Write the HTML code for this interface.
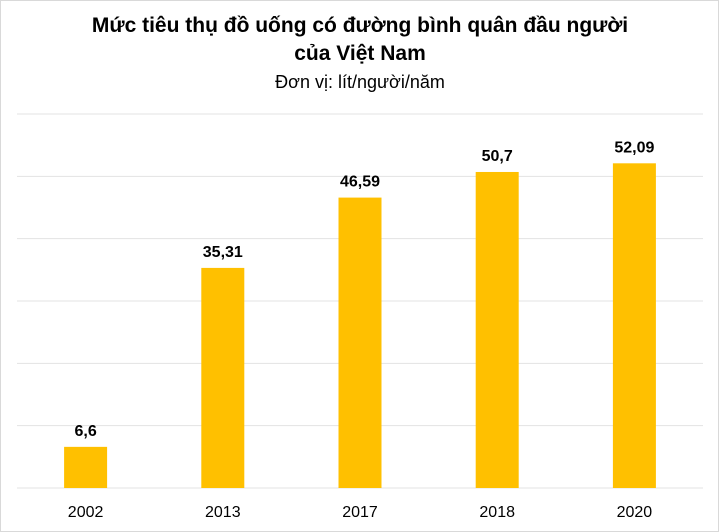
<!DOCTYPE html>
<html><head><meta charset="utf-8"><style>
html,body{margin:0;padding:0;background:#fff;}
#wrap{width:717px;height:530px;border:1px solid #d9d9d9;position:relative;overflow:hidden;}
svg text{font-family:"Liberation Sans","DejaVu Sans",sans-serif;}
</style></head><body>
<div id="wrap">
<svg id="chart" width="717" height="530">
<text x="359" y="31" text-anchor="middle" font-size="21" font-weight="bold" fill="#000">Mức tiêu thụ đồ uống có đường bình quân đầu người</text>
<text x="359" y="59" text-anchor="middle" font-size="21" font-weight="bold" fill="#000">của Việt Nam</text>
<text x="359" y="87" text-anchor="middle" font-size="18" fill="#000">Đơn vị: lít/người/năm</text>
<g id="grid"></g><g id="bars"></g><g id="labels"></g><g id="xlabels"></g>
</svg>
</div>
<script>
const categories=["2002","2013","2017","2018","2020"];
const values=[6.6,35.31,46.59,50.7,52.09];
const valueLabels=["6,6","35,31","46,59","50,7","52,09"];
const gridTicks=[0,10,20,30,40,50,60];
const NS="http://www.w3.org/2000/svg";
const xLeft=16,xRight=702,yBase=487,yTop=113,ymax=60;
const yScale=v=>yBase-(v/ymax)*(yBase-yTop);
const band=(xRight-xLeft)/categories.length;
const xc=i=>xLeft+band*(i+0.5);
const bw=43;
function mk(tag,attrs,parent){const e=document.createElementNS(NS,tag);for(const k in attrs)e.setAttribute(k,attrs[k]);document.getElementById(parent).appendChild(e);return e;}
gridTicks.forEach(t=>{
 const l=mk("line",{x1:xLeft,x2:xRight,y1:yScale(t),y2:yScale(t),stroke:"#e3e3e3","stroke-width":1},"grid");
 
 
});
categories.forEach((c,i)=>{
 const r=mk("rect",{x:xc(i)-bw/2,y:yScale(values[i]),width:bw,height:yBase-yScale(values[i]),fill:"#ffc000"},"bars");
 
 
 const t=mk("text",{x:xc(i),y:yScale(values[i])-11,"text-anchor":"middle","font-size":"16","font-weight":"bold",fill:"#000"},"labels");
 t.textContent=valueLabels[i];
 
 
 const x=mk("text",{x:xc(i),y:yBase+29,"text-anchor":"middle","font-size":"16",fill:"#000"},"xlabels");
 x.textContent=c;
 
 
});
</script>
</body></html>
